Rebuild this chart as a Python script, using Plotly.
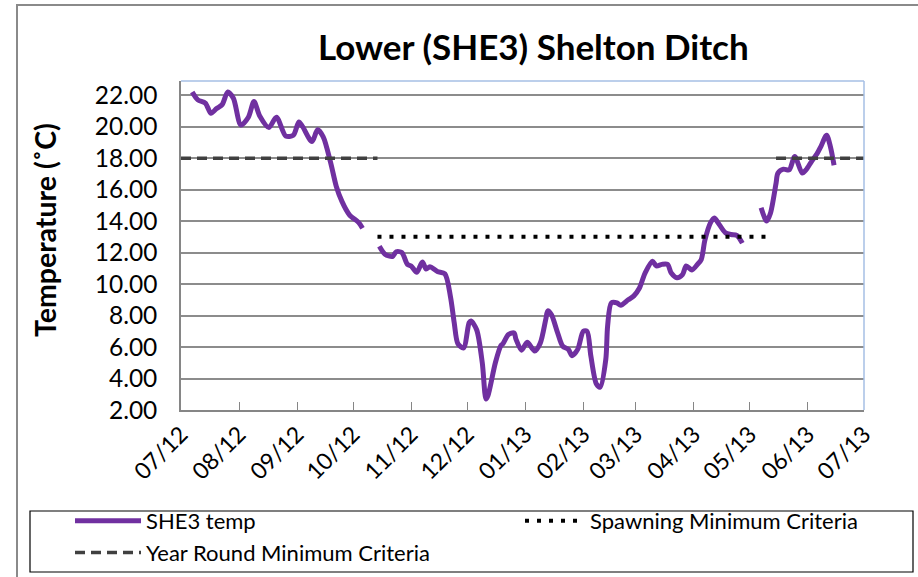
import plotly.graph_objects as go

# ---------------- data ----------------
dates = [
    "2012-07-07", "2012-07-10", "2012-07-14", "2012-07-17", "2012-07-20", "2012-07-23",
    "2012-07-26", "2012-07-29", "2012-08-02", "2012-08-06", "2012-08-09", "2012-08-12",
    "2012-08-17", "2012-08-21", "2012-08-26", "2012-08-30", "2012-09-02", "2012-09-04",
    "2012-09-09", "2012-09-12", "2012-09-15", "2012-09-19", "2012-09-22", "2012-09-25",
    "2012-09-29", "2012-10-04", "2012-10-06",
    "2012-10-10",
    "2012-10-15", "2012-10-18", "2012-10-22", "2012-10-24", "2012-10-27", "2012-10-30",
    "2012-11-01", "2012-11-04", "2012-11-07", "2012-11-09", "2012-11-11", "2012-11-15",
    "2012-11-19", "2012-11-22", "2012-11-24", "2012-11-26", "2012-11-29", "2012-12-02",
    "2012-12-03", "2012-12-06", "2012-12-09", "2012-12-11", "2012-12-12", "2012-12-16",
    "2012-12-19", "2012-12-20", "2012-12-23", "2012-12-26", "2012-12-27", "2012-12-30",
    "2013-01-02", "2013-01-06", "2013-01-09", "2013-01-12", "2013-01-13", "2013-01-15",
    "2013-01-18", "2013-01-21", "2013-01-24", "2013-01-26", "2013-01-29", "2013-02-01",
    "2013-02-03", "2013-02-05", "2013-02-08", "2013-02-10", "2013-02-13", "2013-02-14",
    "2013-02-16", "2013-02-19", "2013-02-21", "2013-02-25", "2013-02-28", "2013-03-03",
    "2013-03-06", "2013-03-10", "2013-03-12", "2013-03-15", "2013-03-18", "2013-03-20",
    "2013-03-23", "2013-03-26", "2013-03-28", "2013-03-31", "2013-04-03", "2013-04-05",
    "2013-04-07", "2013-04-10", "2013-04-12", "2013-04-14", "2013-04-18", "2013-04-21",
    "2013-04-24", "2013-04-27",
    "2013-05-02",
    "2013-05-07", "2013-05-10", "2013-05-12", "2013-05-15", "2013-05-16", "2013-05-19",
    "2013-05-22", "2013-05-25", "2013-05-29", "2013-05-31", "2013-06-03", "2013-06-06",
    "2013-06-08", "2013-06-11", "2013-06-13", "2013-06-15",
]
temps = [
    22.2, 21.7, 21.5, 20.85, 21.15, 21.4,
    22.2, 21.8, 20.1, 20.6, 21.6, 20.7,
    19.95, 20.6, 19.4, 19.45, 20.3, 20.0,
    19.05, 19.8, 19.35, 17.7, 16.2, 15.25,
    14.4, 13.9, 13.55,
    None,
    12.4, 11.9, 11.75, 12.05, 12.0, 11.25,
    11.15, 10.75, 11.4, 10.95, 11.1, 10.8,
    10.65, 9.2, 7.55, 6.2, 5.95, 7.55,
    7.65, 7.1, 5.0, 2.7, 2.9, 5.0,
    6.1, 6.2, 6.8, 6.9, 6.5, 5.8,
    6.3, 5.75, 6.25, 7.8, 8.3, 8.05,
    7.0, 6.05, 5.85, 5.45, 5.85, 7.0,
    7.0, 5.45, 3.65, 3.45, 5.2, 7.35,
    8.8, 8.8, 8.65, 9.0, 9.25, 9.75,
    10.7, 11.45, 11.15, 11.25, 11.25, 10.7,
    10.4, 10.6, 11.15, 10.9, 11.25, 11.55,
    12.8, 13.9, 14.2, 13.9, 13.25, 13.15,
    13.1, 12.6,
    None,
    14.85, 14.0, 14.5, 16.4, 17.05, 17.3,
    17.25, 18.1, 17.05, 17.25, 17.8, 18.3,
    18.75, 19.45, 18.75, 17.55,
]

spawn_dates = ["2012-10-14", "2013-05-11"]
spawn_vals = [13, 13]

year_dates = ["2012-07-01", "2012-10-14", "2012-10-15", "2013-05-15", "2013-07-01"]
year_vals = [18, 18, None, 18, 18]

tick_dates = ["2012-07-01", "2012-08-01", "2012-09-01", "2012-10-01", "2012-11-01",
              "2012-12-01", "2013-01-01", "2013-02-01", "2013-03-01", "2013-04-01",
              "2013-05-01", "2013-06-01", "2013-07-01"]
tick_text = ["07/12", "08/12", "09/12", "10/12", "11/12", "12/12", "01/13",
             "02/13", "03/13", "04/13", "05/13", "06/13", "07/13"]

y_ticks = [2, 4, 6, 8, 10, 12, 14, 16, 18, 20, 22]

FONT = "Lato"

fig = go.Figure()
fig.add_trace(go.Scatter(
    x=dates, y=temps, mode="lines", name="SHE3 temp", legend="legend",
    line=dict(color="#7030A0", width=5, shape="spline", smoothing=0.8),
    connectgaps=False,
))
fig.add_trace(go.Scatter(
    x=spawn_dates, y=spawn_vals, mode="lines", name="Spawning Minimum Criteria",
    legend="legend2",
    line=dict(color="#000000", width=4, dash="4px,8px"),
))
fig.add_trace(go.Scatter(
    x=year_dates, y=year_vals, mode="lines", name="Year Round Minimum Criteria",
    legend="legend",
    line=dict(color="#404040", width=3.5, dash="10px,6px"),
    connectgaps=False,
))

L, R, T, B = 181, 54, 81, 167
W, H = 918, 577
pw, ph = W - L - R, H - T - B

def px(x):
    return (x - L) / pw

def py(y):
    return (H - B - y) / ph

leg_font = dict(family=FONT, size=22, color="black")

fig.update_layout(
    width=W, height=H, autosize=False,
    margin=dict(l=L, r=R, t=T, b=B, pad=0, autoexpand=False),
    paper_bgcolor="white", plot_bgcolor="white",
    font=dict(family=FONT, color="black"),
    showlegend=True,
    legend=dict(
        orientation="v", x=px(70), y=py(500), xanchor="left", yanchor="top",
        borderwidth=0, bgcolor="rgba(0,0,0,0)", itemwidth=66,
        font=leg_font, tracegroupgap=0,
    ),
    legend2=dict(
        orientation="v", x=px(520), y=py(500), xanchor="left", yanchor="top",
        borderwidth=0, bgcolor="rgba(0,0,0,0)", itemwidth=60,
        font=leg_font, tracegroupgap=0,
    ),
    xaxis=dict(
        type="date", range=["2012-07-01", "2013-07-01"],
        tickvals=tick_dates, ticktext=tick_text, tickangle=-45,
        showgrid=False, zeroline=False, automargin=False,
        showline=True, linecolor="#868686", linewidth=1.5,
        ticks="inside", ticklen=8, tickcolor="#868686", tickwidth=1.2,
        tickfont=dict(family=FONT, size=23, color="black"),
    ),
    yaxis=dict(
        range=[2, 22.9], tickvals=y_ticks, ticktext=["%.2f" % v for v in y_ticks],
        showgrid=True, gridcolor="#8c8c8c", gridwidth=1.5, zeroline=False,
        showline=True, linecolor="#868686", linewidth=1.5, automargin=False,
        ticks="", ticklabelstandoff=17,
        tickfont=dict(family=FONT, size=24.5, color="black"),
    ),
    annotations=[
        dict(text="<b>Lower (SHE3) Shelton Ditch</b>", xref="paper", yref="paper",
             x=px(533), y=py(46), xanchor="center", yanchor="middle", showarrow=False,
             font=dict(family=FONT, size=35, color="black")),
        dict(text="<b>Temperature (˚C)</b>", xref="paper", yref="paper",
             x=px(45), y=py(230), xanchor="center", yanchor="middle", showarrow=False,
             textangle=-90, font=dict(family=FONT, size=28.5, color="black")),
    ],
    shapes=[
        dict(type="line", xref="paper", yref="paper", x0=0, x1=1, y0=1, y1=1,
             line=dict(color="#a6bfe4", width=1.5)),
        dict(type="line", xref="paper", yref="paper", x0=1, x1=1, y0=0, y1=1,
             line=dict(color="#a6bfe4", width=1.5)),
        dict(type="rect", xref="paper", yref="paper",
             x0=px(17), x1=px(922), y0=py(582), y1=py(5),
             line=dict(color="#8a8a8a", width=2)),
        dict(type="rect", xref="paper", yref="paper",
             x0=px(30), x1=px(913), y0=py(572), y1=py(511),
             line=dict(color="black", width=1.2)),
    ],
)

fig.write_html("out.html", config={"displayModeBar": False},
               post_script="document.body.style.margin='0px';")
